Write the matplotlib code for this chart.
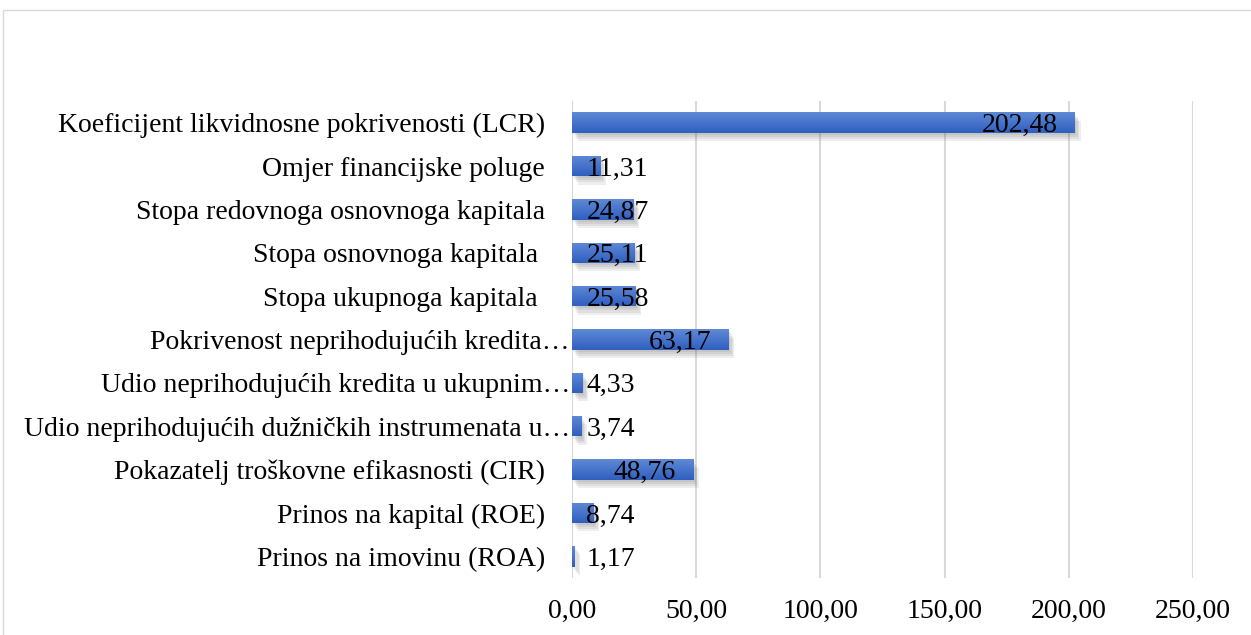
import numpy as np
import matplotlib
matplotlib.use("Agg")
import matplotlib.pyplot as plt
import matplotlib.patheffects as pe
from matplotlib.patches import Rectangle

plt.rcParams.update({"font.family": ["Liberation Serif", "DejaVu Serif"], "font.size": 20})

# ── data (top → bottom as in the chart) ─────────────────────────────────────
categories = [
    "Koeficijent likvidnosne pokrivenosti (LCR)",
    "Omjer financijske poluge",
    "Stopa redovnoga osnovnoga kapitala",
    "Stopa osnovnoga kapitala ",
    "Stopa ukupnoga kapitala ",
    "Pokrivenost neprihodujućih kredita…",
    "Udio neprihodujućih kredita u ukupnim…",
    "Udio neprihodujućih dužničkih instrumenata u…",
    "Pokazatelj troškovne efikasnosti (CIR)",
    "Prinos na kapital (ROE)",
    "Prinos na imovinu (ROA)",
]
values = [202.48, 11.31, 24.87, 25.11, 25.58, 63.17, 4.33, 3.74, 48.76, 8.74, 1.17]
xticks = [0, 50, 100, 150, 200, 250]

W, H = 1251, 635
fig = plt.figure(figsize=(W / 100, H / 100), dpi=100)
ax = fig.add_axes([572 / W, 1 - 578 / H, 621 / W, 477 / H])

y = np.arange(len(values))[::-1]
grad = np.linspace(0, 1, 64).reshape(-1, 1)
cmap = matplotlib.colors.LinearSegmentedColormap.from_list("bar", ["#2f5fbf", "#5f89d6"])

# soft drop shadow: a few stacked faint offsets
shadow = [pe.SimplePatchShadow(offset=(dx, -dy), shadow_rgbFace="0.3", alpha=0.09)
          for dx, dy in [(1, 1.5), (2, 3), (3, 4.5), (4, 6)]]
bars = ax.barh(y, values, height=0.47, color="#4472c4", zorder=3,
               path_effects=shadow + [pe.Normal()])
for b in bars:
    x0, y0, w, h = b.get_x(), b.get_y(), b.get_width(), b.get_height()
    im = ax.imshow(grad, cmap=cmap, aspect="auto", origin="lower",
                   extent=(x0, x0 + w, y0, y0 + h), zorder=3.5)
    im.set_clip_path(b)

# data labels: inside end, or from the base when the bar is too short
for yi, v in zip(y, values):
    s = f"{v:.2f}".replace(".", ",")
    if v > 30:
        ax.text(v - 7, yi, s, ha="right", va="center_baseline", fontsize=20, zorder=5)
    else:
        ax.text(5.8, yi, s, ha="left", va="center_baseline", fontsize=20, zorder=5)

ax.set_xlim(0, 250)
ax.set_ylim(-0.5, len(values) - 0.5)
ax.set_xticks(xticks)
ax.set_xticklabels([f"{t:.2f}".replace(".", ",") for t in xticks])
ax.set_yticks(y)
ax.set_yticklabels(categories)
ax.tick_params(axis="y", length=0, pad=19.5)
ax.tick_params(axis="x", length=0, pad=15)
# truncated labels run right up to the axis
for tick, lab in zip(ax.yaxis.get_major_ticks(), categories):
    if lab.endswith("…"):
        tick.set_pad(1.5)
ax.xaxis.grid(True, color="#d9d9d9", lw=1.5, zorder=0)
ax.set_axisbelow(True)
for sp in ax.spines.values():
    sp.set_visible(False)

# chart-area border (cut off at right and bottom)
fig.add_artist(Rectangle((3 / W, -0.2), 2, 0.2 + 1 - 10 / H, transform=fig.transFigure,
                         fill=False, edgecolor="#d9d9d9", lw=1))

fig.savefig("out.png", dpi=100, facecolor="white")
